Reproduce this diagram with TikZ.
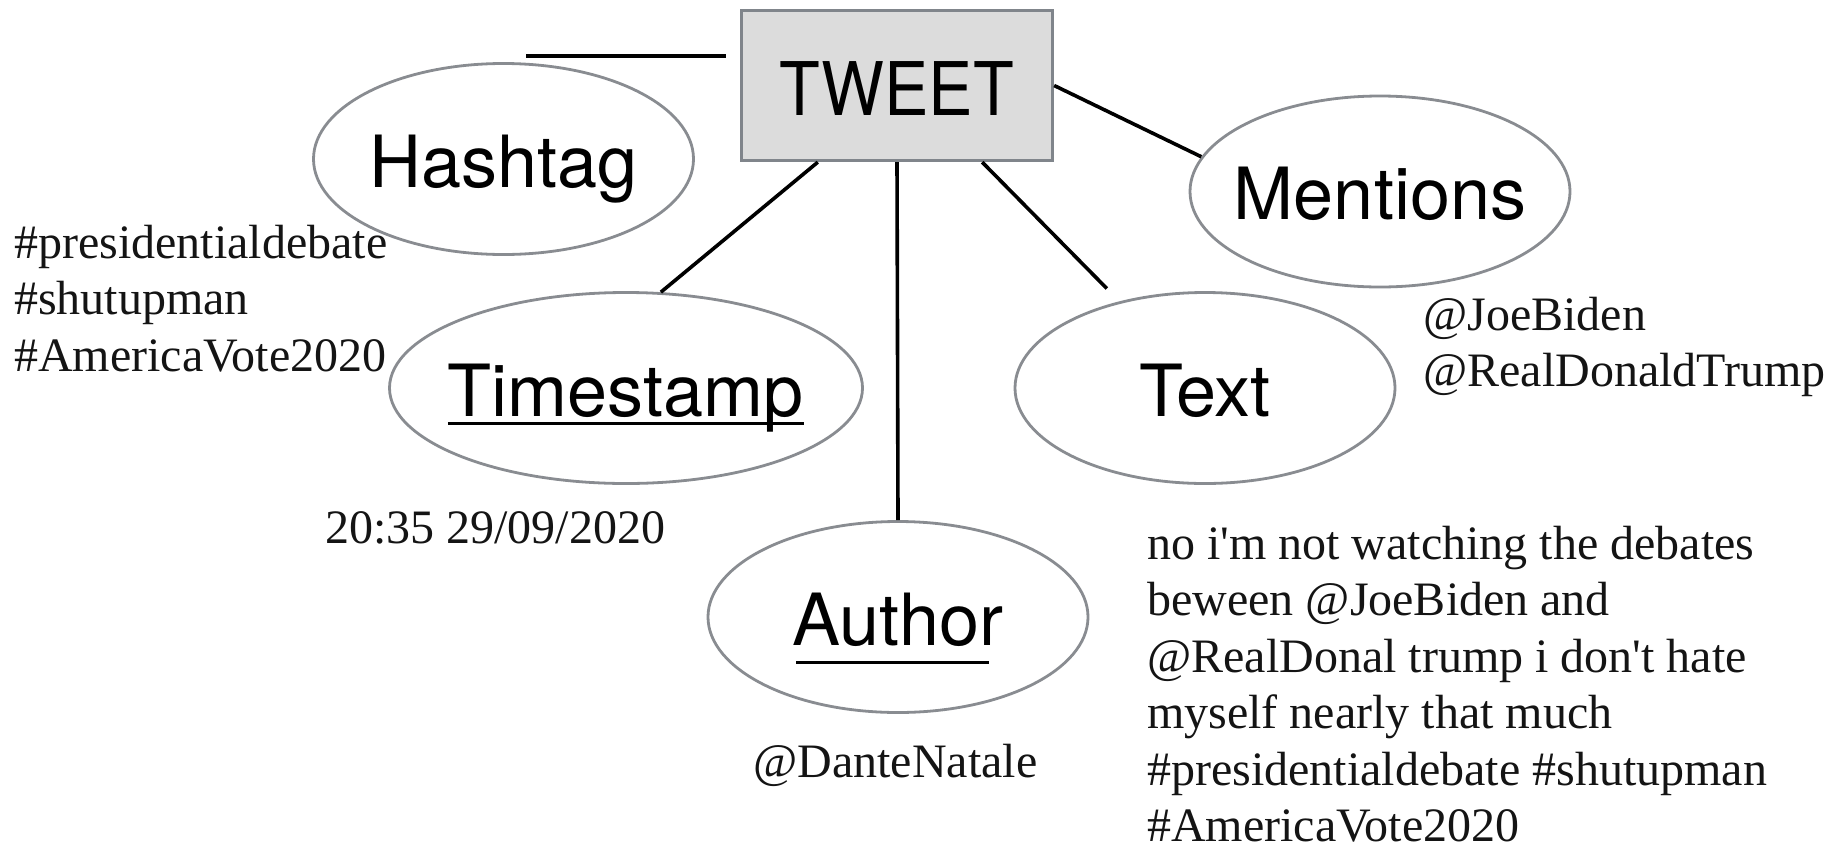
\documentclass[tikz,border=0pt]{standalone}
\usepackage{fontspec}
\usepackage{graphicx}
\usetikzlibrary{shapes.geometric,calc}
\setmainfont{Liberation Serif}[Ligatures=TeXOff]
\newfontfamily\helv{TeX Gyre Heros}
\definecolor{edgegray}{HTML}{898C91}
\definecolor{boxedge}{HTML}{80858B}
\definecolor{boxfill}{HTML}{DCDCDC}

% label of zero width, so the ellipse size comes from its minimum size only
\newcommand\lab[1]{\makebox[0pt]{#1}}
% underlined word: #1 drop of the rule centre below the baseline, #2/#3 left/right inset
\newsavebox\ulsave
\newcommand\ulword[4]{\sbox\ulsave{#4}%
  \rlap{\hspace*{#2}\rule[\dimexpr-#1-1.5pt\relax]{\dimexpr\wd\ulsave-#2-#3\relax}{3pt}}%
  \usebox\ulsave}

\tikzset{
  entity/.style={rectangle, draw=boxedge, fill=boxfill, line width=3.3pt,
    minimum width=311pt, minimum height=150pt, inner sep=0pt,
    font=\helv\fontsize{74}{74}\selectfont, text height=59pt, text depth=0pt},
  attr/.style={ellipse, draw=edgegray, line width=2.8pt,
    minimum width=380pt, minimum height=191pt, inner sep=0pt,
    font=\helv\fontsize{72}{72}\selectfont, text height=56pt, text depth=0pt},
  link/.style={line width=3.6pt, black},
  val/.style={inner sep=0pt, anchor=base west,
    font=\fontsize{48}{56.5}\selectfont, text=black!92},
}

\begin{document}
\begin{tikzpicture}[x=1pt, y=-1pt]
\useasboundingbox (0,0) rectangle (1844,849);

% entity and attributes
\node[entity] (tweet) at (897,85.5) {\scalebox{0.9}[1]{TWEET}};
\node[attr] (hashtag) at (503.5,159) {\lab{Hashtag}};
\node[attr] (mentions) at (1380,191.5) {\lab{Mentions}};
\node[attr, minimum width=473pt] (timestamp) at (626,388) {\lab{\ulword{7pt}{0pt}{0pt}{Timestamp}}};
\node[attr] (txt) at (1205,388) {\lab{Text}};
\node[attr] (author) at (898,617) {\lab{\ulword{17pt}{4pt}{15pt}{Author}}};

% connectors
\coordinate (hl) at (526,56);
\coordinate (hr) at (726,56);
\draw[link] (hl) -- (hr);
\draw[link] (tweet.east) -- (mentions.169);
\draw[link] ($(tweet.south west)!0.248!(tweet.south east)$) -- (timestamp.70);
\draw[link] (tweet.south) -- (author.north);
\draw[link, shorten >=18pt] ($(tweet.south west)!0.771!(tweet.south east)$) -- (txt);

% sample values
\node[val] (hashvals) at (14,258) {\begin{tabular}[t]{@{}l@{}}
  \#presidentialdebate\\ \#shutupman\\ \#AmericaVote2020\end{tabular}};
\node[val] (mentionvals) at (1423,330) {\begin{tabular}[t]{@{}l@{}}
  @JoeBiden\\ @RealDonaldTrump\end{tabular}};
\node[val] (timeval) at (325,543) {20:35 29/09/2020};
\node[val] (authorval) at (753,777) {@DanteNatale};
\node[val] (textval) at (1147,559) {\begin{tabular}[t]{@{}l@{}}
  no i'm not watching the debates\\
  beween @JoeBiden and\\
  @RealDonal trump i don't hate\\
  myself nearly that much\\
  \#presidentialdebate \#shutupman\\
  \#AmericaVote2020\end{tabular}};
\end{tikzpicture}
\end{document}
